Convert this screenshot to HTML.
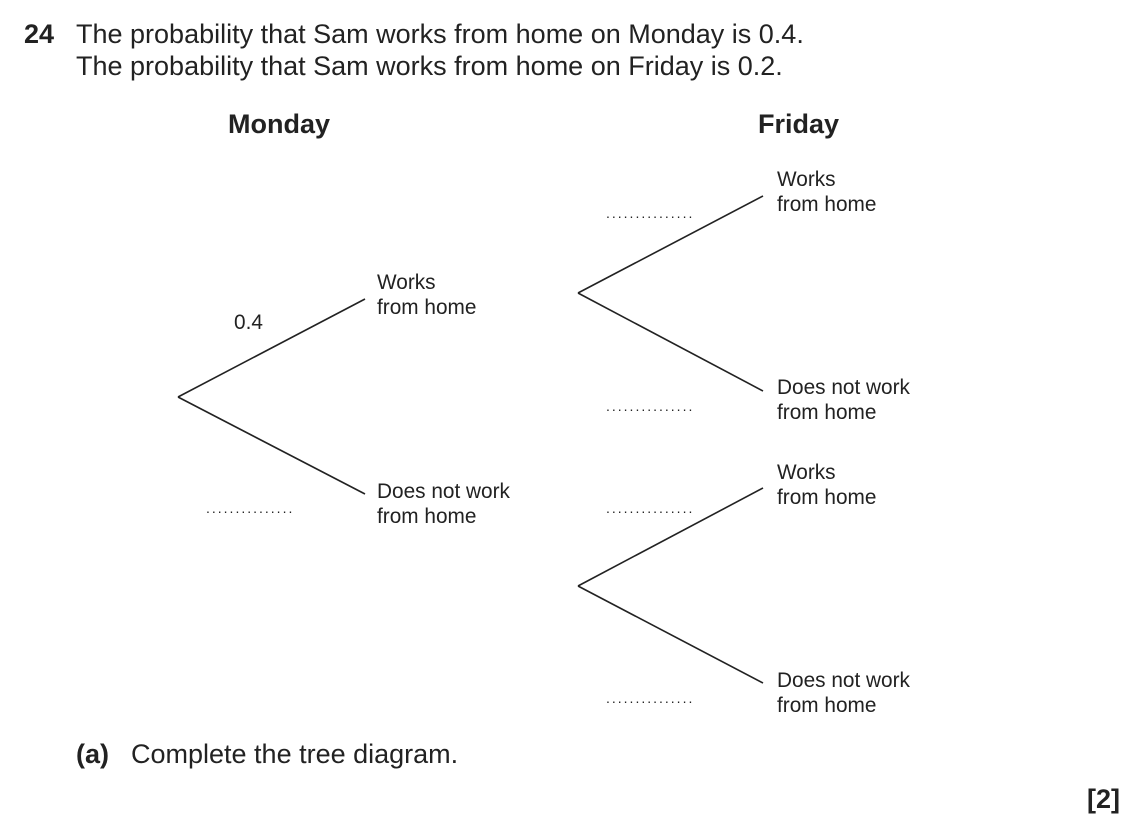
<!DOCTYPE html>
<html><head><meta charset="utf-8"><style>
body{margin:0;width:1140px;height:830px;background:#fff;font-family:"Liberation Sans",Arial,sans-serif;color:#222;position:relative;overflow:hidden}
.t{position:absolute;white-space:nowrap}
.q{font-size:27px}
.l{font-size:20.8px;line-height:25px}
.d{font-size:14px;letter-spacing:2px}
</style></head><body>
<div class="t q" style="left:24px;top:19px"><b>24</b></div>
<div class="t q" style="left:76px;top:19px">The probability that Sam works from home on Monday is 0.4.</div>
<div class="t q" style="left:76px;top:51px">The probability that Sam works from home on Friday is 0.2.</div>
<div class="t q" style="left:228px;top:109px"><b>Monday</b></div>
<div class="t q" style="left:758px;top:109px"><b>Friday</b></div>
<svg style="position:absolute;left:0;top:0" width="1140" height="830">
<g stroke="#222" stroke-width="1.6" fill="none">
<line x1="178" y1="397" x2="365" y2="299"/>
<line x1="178" y1="397" x2="365" y2="494"/>
<line x1="578" y1="293" x2="763" y2="196"/>
<line x1="578" y1="293" x2="763" y2="391"/>
<line x1="578" y1="586" x2="763" y2="488"/>
<line x1="578" y1="586" x2="763" y2="683"/>
</g></svg>
<div class="t l" style="left:377px;top:270px">Works<br>from home</div>
<div class="t l" style="left:377px;top:479px">Does not work<br>from home</div>
<div class="t l" style="left:234px;top:310px">0.4</div>
<div class="t d" style="left:206px;top:500px">...............</div>
<div class="t l" style="left:777px;top:167px">Works<br>from home</div>
<div class="t l" style="left:777px;top:375px">Does not work<br>from home</div>
<div class="t l" style="left:777px;top:460px">Works<br>from home</div>
<div class="t l" style="left:777px;top:668px">Does not work<br>from home</div>
<div class="t d" style="left:606px;top:205px">...............</div>
<div class="t d" style="left:606px;top:398px">...............</div>
<div class="t d" style="left:606px;top:500px">...............</div>
<div class="t d" style="left:606px;top:690px">...............</div>
<div class="t q" style="left:76px;top:739px"><b>(a)</b></div>
<div class="t q" style="left:131px;top:739px">Complete the tree diagram.</div>
<div class="t q" style="left:1087px;top:784px"><b>[2]</b></div>
</body></html>
